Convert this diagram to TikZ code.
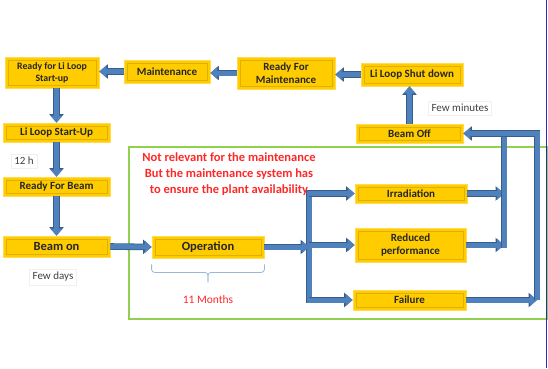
\documentclass[tikz,border=0pt]{standalone}
\usepackage{fontspec}
\setmainfont{Carlito}
\usetikzlibrary{arrows.meta}

\definecolor{boxgold}{RGB}{255,204,0}
\definecolor{boxedge}{RGB}{255,220,80}
\definecolor{boxinner}{RGB}{225,175,0}
\definecolor{flowblue}{RGB}{79,129,189}
\definecolor{flowdark}{RGB}{56,93,138}
\definecolor{framegreen}{RGB}{146,208,80}
\definecolor{notered}{RGB}{255,40,40}
\definecolor{bracegray}{RGB}{155,185,215}
\definecolor{edgeblue}{RGB}{40,40,190}

\tikzset{
  stage/.style={draw=boxedge, fill=boxgold, line width=0.8pt, inner sep=0pt,
    align=center, text=black!85, font=\fontsize{11}{12.5}\selectfont\bfseries,
    path picture={\draw[boxinner, line width=0.6pt]
      ([shift={(3pt,-3pt)}]path picture bounding box.north west) rectangle
      ([shift={(-3pt,3pt)}]path picture bounding box.south east);}},
  flow/.style={preaction={draw=flowdark, line width=6.6pt, -{Triangle[width=14pt,length=8.5pt]}},
    draw=flowblue, line width=5pt, -{Triangle[width=12pt,length=7pt]}},
  bar/.style={preaction={draw=flowdark, line width=6.6pt, line cap=rect},
    draw=flowblue, line width=5pt, line cap=rect},
  note/.style={text=black!75, font=\fontsize{11}{13}\selectfont, draw=black!6, inner sep=3pt},
}

\begin{document}
\begin{tikzpicture}[x=1pt, y=-1pt]
  \useasboundingbox (0,0) rectangle (548,368);

  % frame of the operation phase
  \draw[framegreen, line width=1.5pt] (129,147) rectangle (547,319);
  \draw[edgeblue, line width=1pt] (546.5,0) -- (546.5,368);

  % stages
  \node[stage, minimum width=94pt, minimum height=31pt, font=\fontsize{9.8}{12}\selectfont\bfseries]
    (rfls) at (52,72.5) {Ready for Li Loop\\Start-up};
  \node[stage, minimum width=86pt, minimum height=23pt] (maint) at (167,71.5) {Maintenance};
  \node[stage, minimum width=98pt, minimum height=32pt] (rfm) at (286,73) {Ready For\\Maintenance};
  \node[stage, minimum width=102pt, minimum height=23pt] (shut) at (412,74.5) {Li Loop Shut down};
  \node[stage, minimum width=107pt, minimum height=19pt] (boff) at (409.5,133.5) {Beam Off};
  \node[stage, minimum width=107pt, minimum height=19pt] (llsu) at (56.5,132.5) {Li Loop Start-Up};
  \node[stage, minimum width=107pt, minimum height=19pt] (rfb) at (56.5,186.5) {Ready For Beam};
  \node[stage, minimum width=107pt, minimum height=21pt, font=\fontsize{12.5}{14}\selectfont\bfseries]
    (bon) at (56.5,246.5) {Beam on};
  \node[stage, minimum width=112pt, minimum height=22pt, font=\fontsize{12.5}{14}\selectfont\bfseries]
    (oper) at (208,247) {Operation};
  \node[stage, minimum width=112pt, minimum height=19pt] (irr) at (411,193.5) {Irradiation};
  \node[stage, minimum width=111pt, minimum height=34pt] (redp) at (410.5,245) {Reduced\\performance};
  \node[stage, minimum width=113pt, minimum height=20pt] (fail) at (409.5,300) {Failure};

  % durations
  \node[note] (t12h) at (24,161) {12 h};
  \node[note] (tdays) at (53,277) {Few days};
  \node[note] (tmin) at (460,108) {Few minutes};
  \node[text=notered, font=\fontsize{11.5}{13}\selectfont] (tmonths) at (208,300) {11 Months};
  \node[text=notered, align=center, font=\fontsize{12.5}{16}\selectfont\bfseries]
    (remark) at (229,174) {Not relevant for the maintenance\\But the maintenance system has\\to ensure the plant availability};

  % junction points
  \coordinate (fork) at (309,0);
  \coordinate (colA) at (504,0);
  \coordinate (colB) at (537,0);

  % main cycle
  \draw[flow] (rfls.south -| llsu) -- (llsu.north);
  \draw[flow] (llsu.south) -- (rfb.north);
  \draw[flow] (rfb.south) -- (bon.north);
  \draw[flow] (bon.east) -- (oper.west);
  \draw[flow] (maint.west) -- (maint.west -| rfls.east);
  \draw[flow] (rfm.west) -- (rfm.west -| maint.east);
  \draw[flow] (shut.west) -- (shut.west -| rfm.east);
  \draw[flow] (boff.north) -- (boff.north |- shut.south);

  % branching of the operation
  \draw[bar] (irr.west -| fork) -- (fail.west -| fork);
  \draw[flow] (oper.east) -- (oper.east -| fork);
  \draw[flow] (irr.west -| fork) -- (irr.west);
  \draw[flow] (redp.west -| fork) -- (redp.west);
  \draw[flow] (fail.west -| fork) -- (fail.west);

  % back to beam off
  \draw[flow] (irr.east) -- (irr.east -| colA);
  \draw[flow] (redp.east) -- (redp.east -| colA);
  \draw[flow] (fail.east) -- (fail.east -| colB);
  \draw[bar] (redp.east -| colA) -- (boff.east -| colA);
  \draw[flow, line join=miter] (fail.east -| colB) |- (boff.east);

  % brace under the operation
  \draw[bracegray, line width=0.8pt, rounded corners=3pt]
    ([yshift=-6pt]oper.south west) -- ([yshift=-14pt]oper.south west)
    -- ([yshift=-14pt]oper.south) -- ([yshift=-24pt]oper.south);
  \draw[bracegray, line width=0.8pt, rounded corners=3pt]
    ([yshift=-6pt]oper.south east) -- ([yshift=-14pt]oper.south east)
    -- ([yshift=-14pt]oper.south) -- ([yshift=-24pt]oper.south);
\end{tikzpicture}
\end{document}
